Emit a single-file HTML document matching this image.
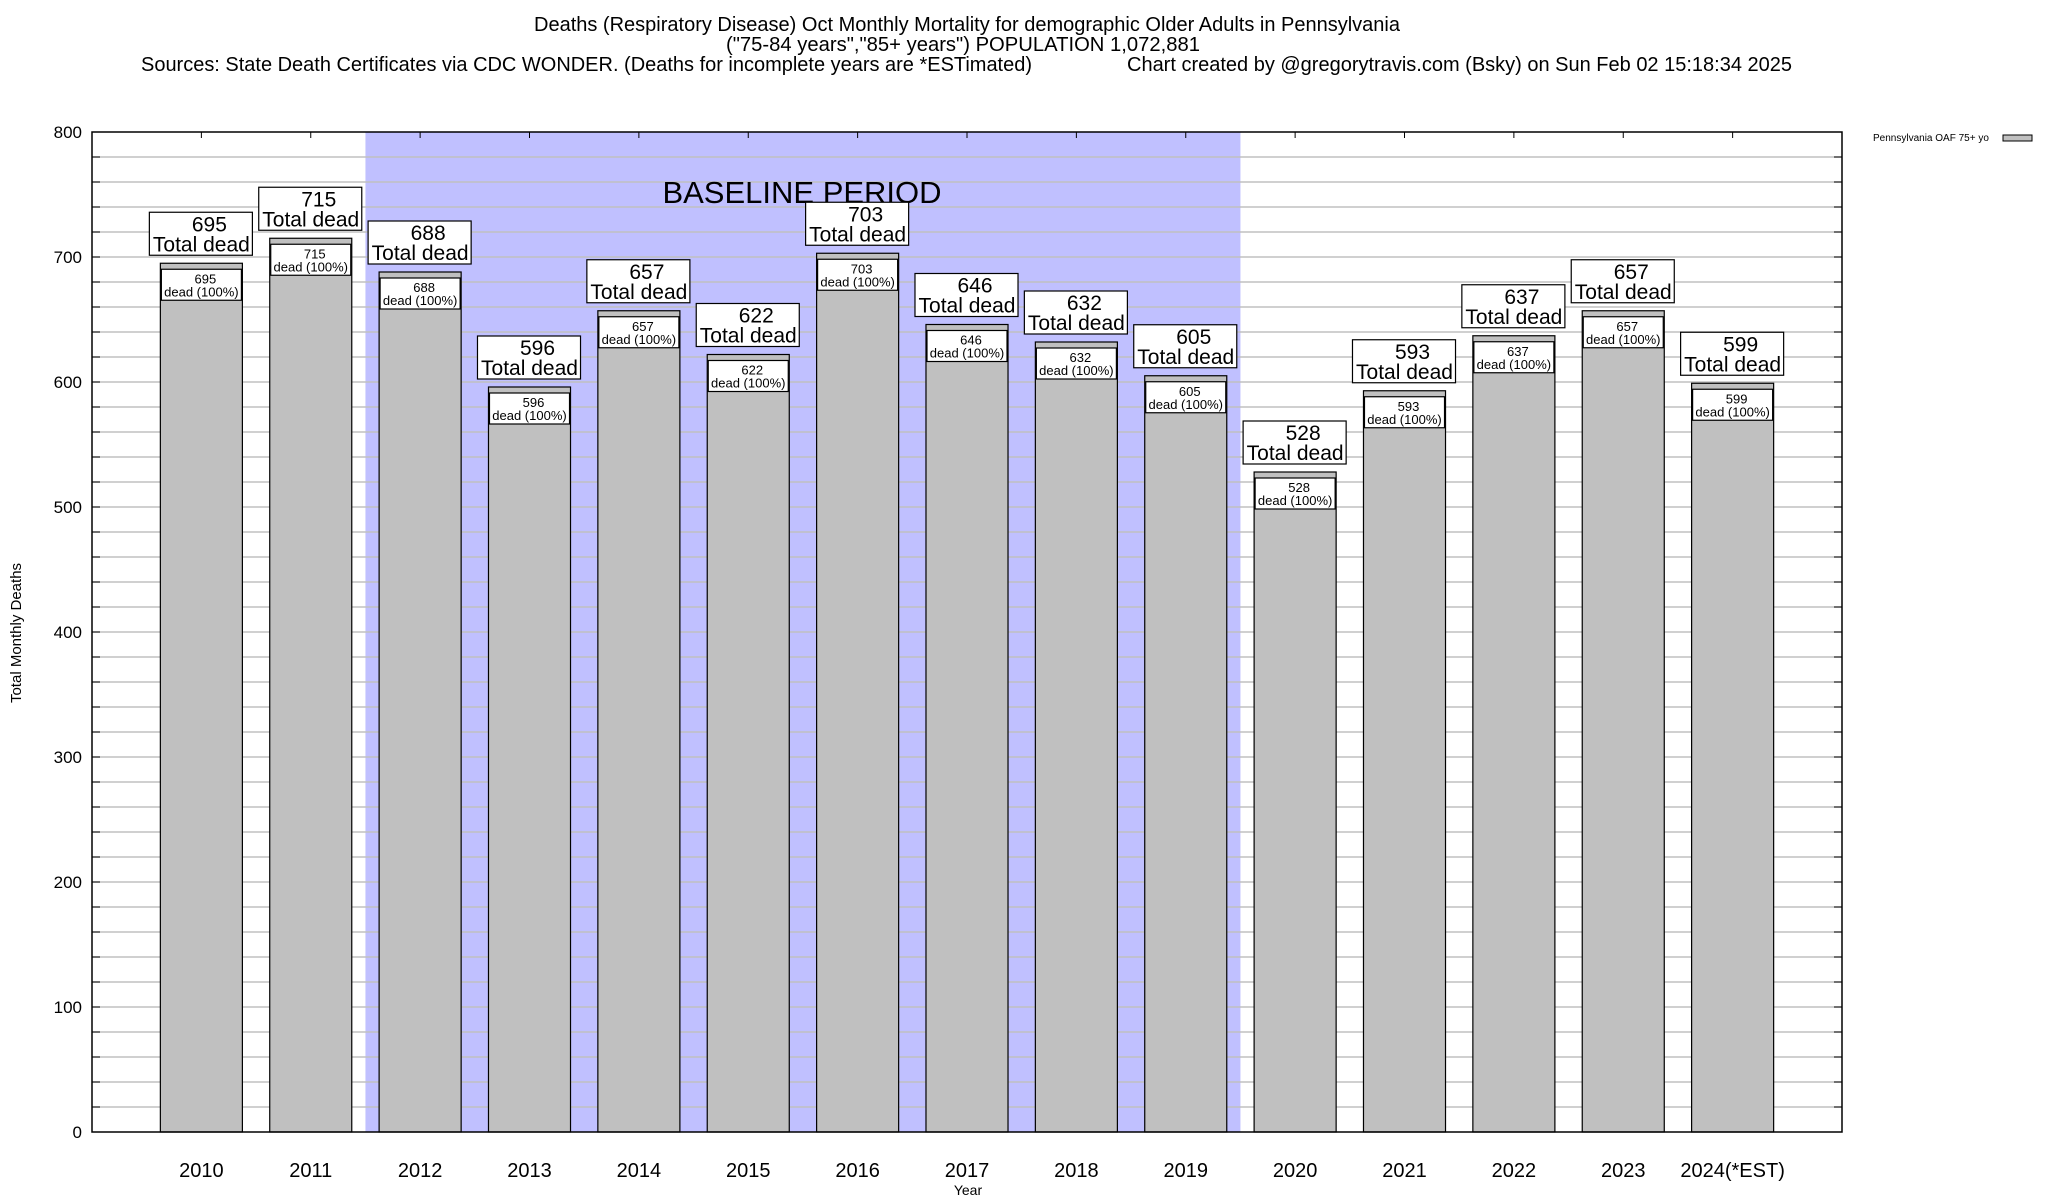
<!DOCTYPE html>
<html><head><meta charset="utf-8">
<style>
html,body{margin:0;padding:0;background:#fff;}
svg{display:block;font-family:"Liberation Sans",Arial,sans-serif;}
</style></head>
<body>
<svg id="chart" width="2048" height="1200" viewBox="0 0 2048 1200" xmlns="http://www.w3.org/2000/svg">
<g font-size="20" fill="#000">
<text x="967" y="31" text-anchor="middle" textLength="866" lengthAdjust="spacingAndGlyphs">Deaths (Respiratory Disease) Oct Monthly Mortality for demographic Older Adults in Pennsylvania</text>
<text x="963" y="51" text-anchor="middle" textLength="474" lengthAdjust="spacingAndGlyphs">("75-84 years","85+ years") POPULATION 1,072,881</text>
<text x="141" y="71" textLength="891" lengthAdjust="spacingAndGlyphs">Sources: State Death Certificates via CDC WONDER. (Deaths for incomplete years are *ESTimated)</text>
<text x="1127" y="71" textLength="665" lengthAdjust="spacingAndGlyphs">Chart created by @gregorytravis.com (Bsky) on Sun Feb 02 15:18:34 2025</text>
</g>
<g id="plot"></g>
<g>
<text x="1873" y="141" font-size="10">Pennsylvania OAF 75+ yo</text>
<rect x="2003" y="135" width="29" height="6" fill="#c0c0c0" stroke="#000" stroke-width="1"/>
</g>
<text transform="translate(21,633) rotate(-90)" text-anchor="middle" font-size="15">Total Monthly Deaths</text>
<text x="968" y="1195" text-anchor="middle" font-size="14">Year</text>
</svg>
<script>
const categories = ["2010","2011","2012","2013","2014","2015","2016","2017","2018","2019","2020","2021","2022","2023","2024(*EST)"];
const deaths = [695,715,688,596,657,622,703,646,632,605,528,593,637,657,599];
const yTicks = [0,100,200,300,400,500,600,700,800];
const baselineRange = [1.5, 9.5];

const NS = "http://www.w3.org/2000/svg";
const L = 92, R = 1842, T = 132, B = 1132;
const xMin = -1, xMax = 15, yMax = 800;
const slot = (R - L) / (xMax - xMin);
function xs(i){ return L + (i - xMin) * slot; }
function ys(v){ return B - v / yMax * (B - T); }
const plot = document.getElementById('plot');
function mk(tag, attrs, parent){
  const e = document.createElementNS(NS, tag);
  for (const k in attrs) e.setAttribute(k, attrs[k]);
  (parent || plot).appendChild(e);
  return e;
}
const sh = mk('rect', {x: xs(baselineRange[0]), y: T, width: xs(baselineRange[1]) - xs(baselineRange[0]), height: B - T, fill: '#c0c0ff'});


for (let v = 20; v < yMax; v += 20) {
  const g = mk('line', {x1: L, x2: R, y1: ys(v), y2: ys(v), stroke: '#c0c0c0', 'stroke-width': 1.5});
  
  
  mk('line', {x1: L, x2: L + 8, y1: ys(v), y2: ys(v), stroke: '#000', 'stroke-width': 1});
  mk('line', {x1: R - 8, x2: R, y1: ys(v), y2: ys(v), stroke: '#000', 'stroke-width': 1});
}
const bt = mk('text', {x: 802, y: 203, 'text-anchor': 'middle', 'font-size': 31});
bt.textContent = 'BASELINE PERIOD';


yTicks.forEach(v => {
  const t = mk('text', {x: 82, y: ys(v) + 6, 'text-anchor': 'end', 'font-size': 17});
  t.textContent = v;
  
  
});
const bw = slot * 0.75;
deaths.forEach((v, i) => {
  const cx = xs(i), x0 = cx - bw / 2, yt = ys(v);
  const g = mk('g', {});
  
  
  mk('rect', {x: x0, y: yt, width: bw, height: B - yt, fill: '#c0c0c0', stroke: '#000', 'stroke-width': 1.2}, g);
  mk('rect', {x: x0 + 1, y: yt + 6, width: bw - 2, height: 31, fill: '#fff', stroke: '#000', 'stroke-width': 1.2}, g);
  const s1 = mk('text', {x: cx + 4, y: yt + 20, 'text-anchor': 'middle', 'font-size': 13}, g); s1.textContent = v;
  const s2 = mk('text', {x: cx, y: yt + 33, 'text-anchor': 'middle', 'font-size': 13}, g); s2.textContent = 'dead (100%)';
  const bx = x0 - 11, bwid = bw + 21, by = yt - 8 - 43;
  const lg = mk('g', {});
  
  
  mk('rect', {x: bx, y: by, width: bwid, height: 43, fill: '#fff', stroke: '#000', 'stroke-width': 1.2}, lg);
  const t1 = mk('text', {x: cx + 8, y: by + 19, 'text-anchor': 'middle', 'font-size': 21}, lg); t1.textContent = v;
  const t2 = mk('text', {x: cx, y: by + 39, 'text-anchor': 'middle', 'font-size': 21}, lg); t2.textContent = 'Total dead';
  mk('line', {x1: cx, x2: cx, y1: T, y2: T + 6, stroke: '#000', 'stroke-width': 1});
  const xl = mk('text', {x: cx, y: 1177, 'text-anchor': 'middle', 'font-size': 20});
  xl.textContent = categories[i];
  
  
});
const fr = mk('rect', {x: L, y: T, width: R - L, height: B - T, fill: 'none', stroke: '#000', 'stroke-width': 1.5});


</script>
</body></html>
